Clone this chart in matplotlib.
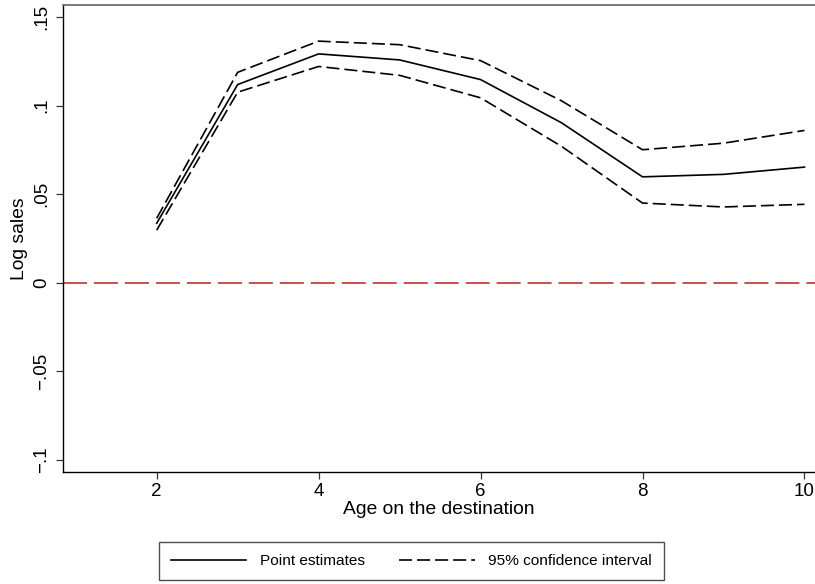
import matplotlib
matplotlib.use("Agg")
import matplotlib.pyplot as plt
from matplotlib.lines import Line2D

plt.rcParams["font.family"] = ["Liberation Sans", "DejaVu Sans"]
plt.rcParams["lines.scale_dashes"] = False

# Event-study style estimates of log sales by age on the destination
age = [2, 3, 4, 5, 6, 7, 8, 9, 10]
point_est = [0.0336, 0.1119, 0.1292, 0.1258, 0.1147, 0.0903, 0.0598, 0.0612, 0.0653]
ci_upper = [0.0364, 0.1188, 0.1364, 0.1344, 0.1254, 0.1027, 0.0751, 0.0788, 0.0860]
ci_lower = [0.0297, 0.1076, 0.1221, 0.1171, 0.1044, 0.0770, 0.0450, 0.0428, 0.0443]

x_ticks = [2, 4, 6, 8, 10]
y_ticks = [-0.1, -0.05, 0, 0.05, 0.1, 0.15]
y_tick_labels = ["\u2212.1", "\u2212.05", "0", ".05", ".1", ".15"]

W, H = 815, 584
fig = plt.figure(figsize=(W / 100, H / 100), dpi=100)
ax = fig.add_axes([63 / W, 1 - 472 / H, (W - 63) / W, (472 - 5) / H])

dash = (0, (9.4, 3.6))
ax.axhline(0, color="#c23a3a", lw=1.25, dashes=(17.3, 5.0), zorder=1)
ax.plot(age, point_est, color="black", lw=1.2, solid_joinstyle="miter", zorder=3)
ax.plot(age, ci_upper, color="black", lw=1.2, linestyle=dash, zorder=3)
ax.plot(age, ci_lower, color="black", lw=1.2, linestyle=dash, zorder=3)

ax.set_xlim(0.843, 10.13)
ax.set_ylim(-0.1068, 0.1568)

ax.set_xticks(x_ticks)
ax.set_xticklabels([str(v) for v in x_ticks])
ax.set_yticks(y_ticks)
ax.set_yticklabels(y_tick_labels, rotation=90, va="center")

ax.tick_params(axis="both", direction="out", length=5, width=0.9,
               color="#333333", labelsize=13.5)
ax.tick_params(axis="x", pad=3)
ax.tick_params(axis="y", pad=4)

for side in ("left", "bottom"):
    ax.spines[side].set_color("black")
    ax.spines[side].set_linewidth(1.0)
ax.spines["top"].set_color("#707070")
ax.spines["top"].set_linewidth(1.3)
ax.spines["right"].set_visible(False)

ax.set_xlabel("Age on the destination", fontsize=13.9, labelpad=1)
ax.set_ylabel("Log sales", fontsize=13.9, labelpad=4)

handles = [
    Line2D([], [], color="black", lw=1.2),
    Line2D([], [], color="black", lw=1.2, linestyle=dash),
]
leg = fig.legend(handles, ["Point estimates", "95% confidence interval"],
                 loc="center", bbox_to_anchor=(411.5 / W, 1 - 561 / H),
                 ncol=2, fontsize=11.1, frameon=True, fancybox=False,
                 edgecolor="#222222", handlelength=4.9, handletextpad=0.9,
                 columnspacing=2.2, borderpad=0.75, borderaxespad=0)
leg.get_frame().set_linewidth(1.0)

fig.savefig("out.png", dpi=100, facecolor="white")
